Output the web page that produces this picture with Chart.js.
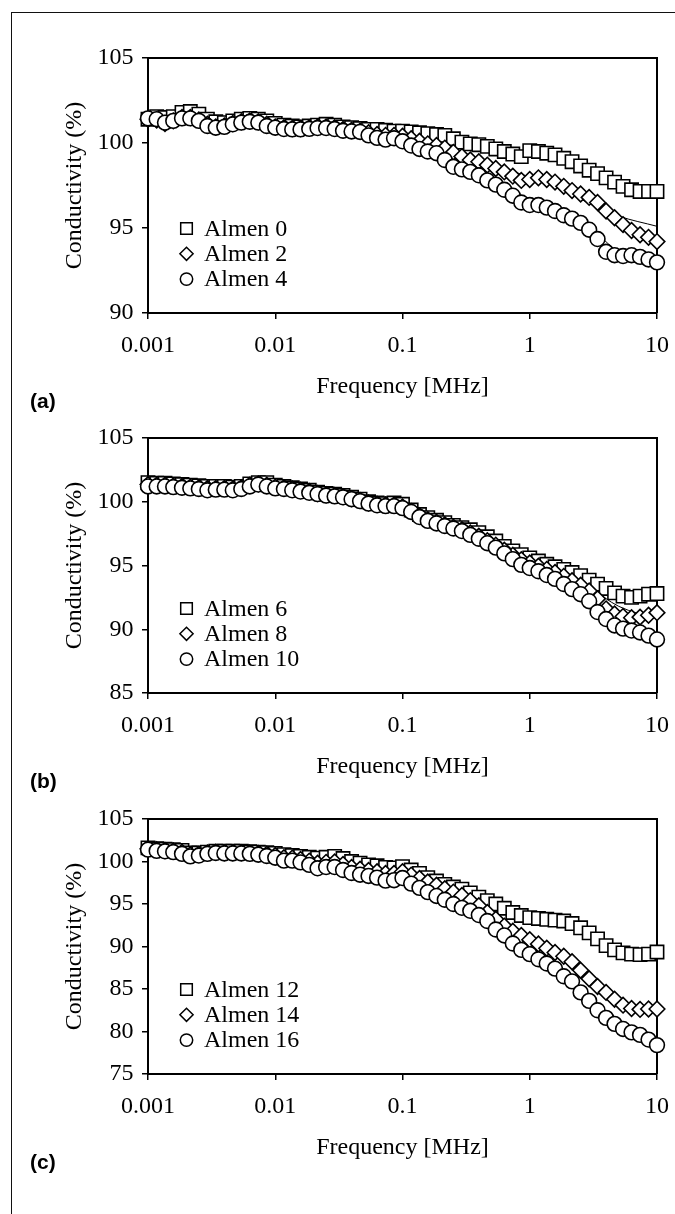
<!DOCTYPE html>
<html>
<head>
<meta charset="utf-8">
<title>Conductivity vs frequency</title>
<script src="https://cdn.jsdelivr.net/npm/chart.js@4.4.1/dist/chart.umd.min.js"></script>
<style>
  html, body { margin: 0; padding: 0; background: #fff; }
  #page { position: relative; width: 675px; height: 1214px; overflow: hidden; background: #fff; }
  #frame { position: absolute; left: 11px; top: 12px; width: 700px; height: 1300px;
           border-left: 1.5px solid #111; border-top: 1.5px solid #111; }
  canvas { position: absolute; left: 0; }
  .tag { position: absolute; left: 30px; font: bold 21px "Liberation Sans", Arial, sans-serif;
         line-height: 24px; color: #000; }
</style>
</head>
<body>
<div id="page">
  <div id="frame"></div>
  <canvas id="chartA" width="675" height="420" style="top:0px;width:675px;height:420px"></canvas>
  <canvas id="chartB" width="675" height="420" style="top:380px;width:675px;height:420px"></canvas>
  <canvas id="chartC" width="675" height="420" style="top:761px;width:675px;height:420px"></canvas>
  <div class="tag" style="top:389px">(a)</div>
  <div class="tag" style="top:769px">(b)</div>
  <div class="tag" style="top:1150px">(c)</div>
</div>
<script>
// frequency sweep (MHz), 15 points per decade
const freq = [
  0.001, 0.00117, 0.00136, 0.00158, 0.00185, 0.00215, 0.00251, 0.00293, 0.00341, 0.00398, 0.00464, 0.00541, 0.00631, 0.00736, 0.00858,
  0.01, 0.0117, 0.0136, 0.0158, 0.0185, 0.0215, 0.0251, 0.0293, 0.0341, 0.0398, 0.0464, 0.0541, 0.0631, 0.0736, 0.0858,
  0.1, 0.117, 0.136, 0.158, 0.185, 0.215, 0.251, 0.293, 0.341, 0.398, 0.464, 0.541, 0.631, 0.736, 0.858,
  1, 1.17, 1.36, 1.58, 1.85, 2.15, 2.51, 2.93, 3.41, 3.98, 4.64, 5.41, 6.31, 7.36, 8.58,
  10
];

// (a) measured conductivity, %
const almen0 = [
  101.4, 101.55, 101.5, 101.55, 101.8, 101.85, 101.7, 101.4, 101.25, 101.2, 101.3, 101.4, 101.45, 101.4, 101.3,
  101.15, 101.05, 101.0, 100.95, 101.0, 101.05, 101.1, 101.05, 100.95, 100.9, 100.85, 100.8, 100.8, 100.75, 100.7,
  100.7, 100.65, 100.6, 100.55, 100.5, 100.45, 100.25, 100.05, 99.95, 99.9, 99.8, 99.65, 99.5, 99.35, 99.2,
  99.55, 99.5, 99.4, 99.3, 99.1, 98.9, 98.65, 98.4, 98.2, 97.95, 97.7, 97.45, 97.25, 97.15, 97.15,
  97.15
];
const almen2 = [
  101.4, 101.35, 101.15, 101.3, 101.5, 101.5, 101.35, 101.1, 100.95, 101.0, 101.15, 101.25, 101.3, 101.25, 101.1,
  100.95, 100.9, 100.85, 100.85, 100.9, 100.95, 100.95, 100.9, 100.8, 100.75, 100.7, 100.6, 100.5, 100.45, 100.45,
  100.4, 100.25, 100.1, 99.95, 99.85, 99.7, 99.45, 99.2, 99.0, 98.9, 98.7, 98.5, 98.3, 98.05, 97.8,
  97.85, 97.95, 97.85, 97.7, 97.45, 97.2, 97.0, 96.8, 96.5, 96.0, 95.6, 95.2, 94.85, 94.6, 94.45,
  94.2
];
const almen4 = [
  101.45, 101.4, 101.2, 101.3, 101.45, 101.45, 101.3, 101.0, 100.9, 100.95, 101.1, 101.2, 101.25, 101.2, 101.0,
  100.9, 100.82, 100.8, 100.8, 100.83, 100.88, 100.88, 100.82, 100.72, 100.68, 100.65, 100.45, 100.3, 100.2, 100.28,
  100.1, 99.85, 99.65, 99.5, 99.4, 99.0, 98.6, 98.45, 98.3, 98.1, 97.8, 97.55, 97.25, 96.9, 96.5,
  96.35, 96.35, 96.2, 96.0, 95.75, 95.55, 95.3, 94.9, 94.35, 93.6, 93.4, 93.35, 93.4, 93.3, 93.15,
  92.98
];

// (b)
const almen6 = [
  101.5, 101.45, 101.45, 101.4, 101.35, 101.3, 101.25, 101.2, 101.2, 101.2, 101.15, 101.2, 101.4, 101.5, 101.5,
  101.3, 101.2, 101.1, 101.0, 100.9, 100.75, 100.65, 100.6, 100.5, 100.35, 100.2, 100.0, 99.9, 99.85, 99.9,
  99.8, 99.35, 99.0, 98.75, 98.55, 98.36, 98.15, 97.97, 97.8, 97.58, 97.25, 96.92, 96.5, 96.14, 95.85,
  95.6, 95.35, 95.1, 94.9, 94.7, 94.45, 94.2, 93.85, 93.54, 93.2, 92.85, 92.6, 92.5, 92.6, 92.75,
  92.8
];
const almen8 = [
  101.35, 101.3, 101.3, 101.25, 101.2, 101.15, 101.1, 101.05, 101.05, 101.05, 101.0, 101.1, 101.3, 101.4, 101.3,
  101.15, 101.1, 101.0, 100.9, 100.8, 100.65, 100.55, 100.5, 100.4, 100.25, 100.1, 99.9, 99.8, 99.75, 99.75,
  99.6, 99.25, 98.9, 98.6, 98.4, 98.2, 98.0, 97.8, 97.55, 97.3, 96.95, 96.6, 96.2, 95.8, 95.45,
  95.2, 94.95, 94.7, 94.45, 94.15, 93.8, 93.45, 93.0, 92.4, 91.6, 91.2, 91.0, 90.9, 90.95, 91.1,
  91.3
];
const almen10 = [
  101.2, 101.2, 101.2, 101.15, 101.1, 101.05, 101.0, 100.9, 100.95, 100.95, 100.9, 101.0, 101.2, 101.35, 101.2,
  101.05, 101.0, 100.9, 100.8, 100.7, 100.6, 100.48, 100.42, 100.35, 100.2, 100.05, 99.85, 99.72, 99.66, 99.66,
  99.5, 99.2, 98.8, 98.5, 98.3, 98.1, 97.9, 97.7, 97.4, 97.1, 96.75, 96.4, 95.95, 95.5, 95.05,
  94.8, 94.55, 94.25, 93.95, 93.55, 93.15, 92.75, 92.2, 91.35, 90.8, 90.3, 90.05, 89.9, 89.75, 89.5,
  89.2
];

// (c)
const almen12 = [
  101.6, 101.5, 101.45, 101.4, 101.3, 101.0, 101.0, 101.1, 101.2, 101.2, 101.2, 101.2, 101.15, 101.1, 101.05,
  100.95, 100.8, 100.7, 100.6, 100.5, 100.4, 100.5, 100.6, 100.35, 100.0, 99.8, 99.6, 99.5, 99.3, 99.25,
  99.4, 99.0, 98.6, 98.1, 97.7, 97.3, 97.0, 96.75, 96.3, 95.8, 95.4, 95.0, 94.5, 94.0, 93.65,
  93.4, 93.3, 93.2, 93.1, 93.0, 92.7, 92.2, 91.6, 90.9, 90.1, 89.6, 89.25, 89.1, 89.05, 89.1,
  89.35
];
const almen14 = [
  101.5, 101.4, 101.3, 101.25, 101.1, 100.8, 100.85, 101.0, 101.1, 101.05, 101.05, 101.05, 101.0, 100.95, 100.85,
  100.7, 100.45, 100.4, 100.25, 100.05, 99.8, 99.9, 99.95, 99.65, 99.3, 99.1, 98.95, 98.8, 98.6, 98.6,
  98.8, 98.4, 98.0, 97.6, 97.2, 96.8, 96.4, 96.0, 95.4, 94.8, 94.0, 93.2, 92.4, 91.8, 91.3,
  90.8, 90.3, 89.8, 89.3, 88.85, 88.2, 87.2, 86.2, 85.3, 84.6, 83.8, 83.1, 82.7, 82.6, 82.65,
  82.65
];
const almen16 = [
  101.4, 101.25, 101.2, 101.1, 100.9, 100.6, 100.7, 100.9, 101.0, 100.95, 100.95, 100.95, 100.9, 100.8, 100.65,
  100.45, 100.1, 100.1, 99.9, 99.6, 99.2, 99.35, 99.35, 99.0, 98.65, 98.45, 98.3, 98.1, 97.75, 97.8,
  98.05, 97.4, 96.9, 96.4, 95.95, 95.5, 95.0, 94.55, 94.2, 93.7, 93.0, 92.0, 91.3, 90.35, 89.6,
  89.1, 88.5, 88.0, 87.4, 86.5, 85.9, 84.6, 83.6, 82.5, 81.6, 80.9, 80.3, 79.9, 79.6, 79.05,
  78.4
];

// smooth trend curves (thin lines)
const modelFreq = [0.001, 0.01, 0.1, 0.3, 1, 2, 3, 5, 10];
const fit0 = [101.45, 101.15, 100.7, 100.05, 99.3, 98.9, 98.45, 97.6, 97.15];
const fit2 = [101.35, 101.0, 100.4, 99.2, 98.0, 97.1, 96.4, 95.7, 95.1];
const fit4 = [101.3, 100.95, 100.1, 98.4, 96.4, 95.7, 95.0, 93.6, 93.0];
const fit6 = [101.4, 101.2, 99.8, 97.9, 95.6, 94.6, 93.9, 92.9, 92.4];
const fit8 = [101.3, 101.1, 99.6, 97.7, 95.2, 94.1, 93.2, 91.8, 90.8];
const fit10 = [101.2, 101.0, 99.5, 97.6, 94.8, 93.4, 92.2, 90.4, 89.3];
const fit12 = [101.5, 101.0, 99.3, 96.8, 93.5, 92.8, 91.6, 89.6, 89.2];
const fit14 = [101.4, 100.8, 98.8, 96.1, 91.0, 88.6, 86.3, 83.8, 82.4];
const fit16 = [101.3, 100.6, 98.1, 94.6, 89.3, 86.6, 84.0, 81.0, 78.7];

const xTickValues = [0.001, 0.01, 0.1, 1, 10];
const xTickLabels = ['0.001', '0.01', '0.1', '1', '10'];

const serif = '"Liberation Serif", "Times New Roman", serif';

function pts(xs, ys) {
  return xs.map((x, i) => ({ x: x, y: ys[i] }));
}

const markerStyles = [
  { pointStyle: 'rect', radius: 9.4 },
  { pointStyle: 'rectRot', radius: 7.8 },
  { pointStyle: 'circle', radius: 7.4 }
];

// top and right edges of the plot box
const boxPlugin = {
  id: 'box',
  beforeDatasetsDraw(chart) {
    const a = chart.chartArea, ctx = chart.ctx;
    ctx.save();
    ctx.strokeStyle = '#000';
    ctx.lineWidth = 2;
    ctx.beginPath();
    ctx.moveTo(a.left, a.top);
    ctx.lineTo(a.right, a.top);
    ctx.lineTo(a.right, a.bottom);
    ctx.stroke();
    ctx.restore();
  }
};

// legend drawn inside the plot, lower left
const insideLegend = {
  id: 'insideLegend',
  afterDatasetsDraw(chart) {
    const a = chart.chartArea, ctx = chart.ctx;
    const sets = chart.data.datasets.filter(d => d.legendRow !== undefined);
    ctx.save();
    sets.forEach(d => {
      const y = a.top + 170.5 + d.legendRow * 25.3;
      const x = a.left + 38.5;
      ctx.fillStyle = '#fff';
      ctx.strokeStyle = '#000';
      ctx.lineWidth = 1.5;
      Chart.helpers.drawPoint(ctx, {
        pointStyle: d.pointStyle, radius: d.pointRadius - 1.2, rotation: 0, borderWidth: 1.5
      }, x, y);
      ctx.fillStyle = '#000';
      ctx.font = '24px ' + serif;
      ctx.textBaseline = 'middle';
      ctx.textAlign = 'left';
      ctx.fillText(d.label, a.left + 56, y + 1);
    });
    ctx.restore();
  }
};

function makePanel(id, labels, series, fits, yMin) {
  const datasets = [];
  series.forEach((vals, k) => {
    datasets.push({
      label: labels[k],
      data: pts(freq, vals),
      legendRow: k,
      pointStyle: markerStyles[k].pointStyle,
      pointRadius: markerStyles[k].radius,
      pointBackgroundColor: '#fff',
      pointBorderColor: '#000',
      pointBorderWidth: 1.6,
      showLine: false,
      clip: false,
      order: 3 - k
    });
  });
  fits.forEach(vals => {
    datasets.push({
      data: pts(modelFreq, vals),
      showLine: true,
      borderColor: '#000',
      borderWidth: 1,
      pointRadius: 0,
      cubicInterpolationMode: 'monotone',
      clip: false,
      order: 10
    });
  });

  new Chart(document.getElementById(id), {
    type: 'scatter',
    data: { datasets: datasets },
    options: {
      responsive: false,
      animation: false,
      events: [],
      layout: { padding: { left: 0, right: 18, top: 58, bottom: 17 } },
      plugins: { legend: { display: false }, tooltip: { enabled: false } },
      scales: {
        x: {
          type: 'logarithmic',
          min: 0.001,
          max: 10,
          afterBuildTicks: s => { s.ticks = xTickValues.map(v => ({ value: v })); },
          afterFit: s => { s.height = 90; s.paddingLeft = 0; s.paddingRight = 0; },
          ticks: {
            autoSkip: false, maxRotation: 0, padding: 12, color: '#000',
            font: { family: serif, size: 24 },
            callback: v => { const i = xTickValues.indexOf(v); return i < 0 ? '' : xTickLabels[i]; }
          },
          grid: { drawOnChartArea: false, drawTicks: true, tickLength: 6, color: '#000', lineWidth: 1.5 },
          border: { display: true, color: '#000', width: 2 },
          title: {
            display: true, text: 'Frequency [MHz]', color: '#000',
            font: { family: serif, size: 24 }, padding: { top: 0, bottom: 2 }
          }
        },
        y: {
          min: yMin,
          max: 105,
          afterFit: s => { s.width = 148; s.paddingTop = 0; s.paddingBottom = 0; },
          ticks: { stepSize: 5, padding: 8.5, color: '#000', font: { family: serif, size: 24 } },
          grid: { drawOnChartArea: false, drawTicks: true, tickLength: 6, color: '#000', lineWidth: 1.5 },
          border: { display: true, color: '#000', width: 2 },
          title: {
            display: true, text: 'Conductivity (%)', color: '#000',
            font: { family: serif, size: 24 }, padding: { top: 60.5, bottom: 0 }
          }
        }
      }
    },
    plugins: [boxPlugin, insideLegend]
  });
}

makePanel('chartA', ['Almen 0', 'Almen 2', 'Almen 4'], [almen0, almen2, almen4], [fit0, fit2, fit4], 90);
makePanel('chartB', ['Almen 6', 'Almen 8', 'Almen 10'], [almen6, almen8, almen10], [fit6, fit8, fit10], 85);
makePanel('chartC', ['Almen 12', 'Almen 14', 'Almen 16'], [almen12, almen14, almen16], [fit12, fit14, fit16], 75);
</script>
</body>
</html>
